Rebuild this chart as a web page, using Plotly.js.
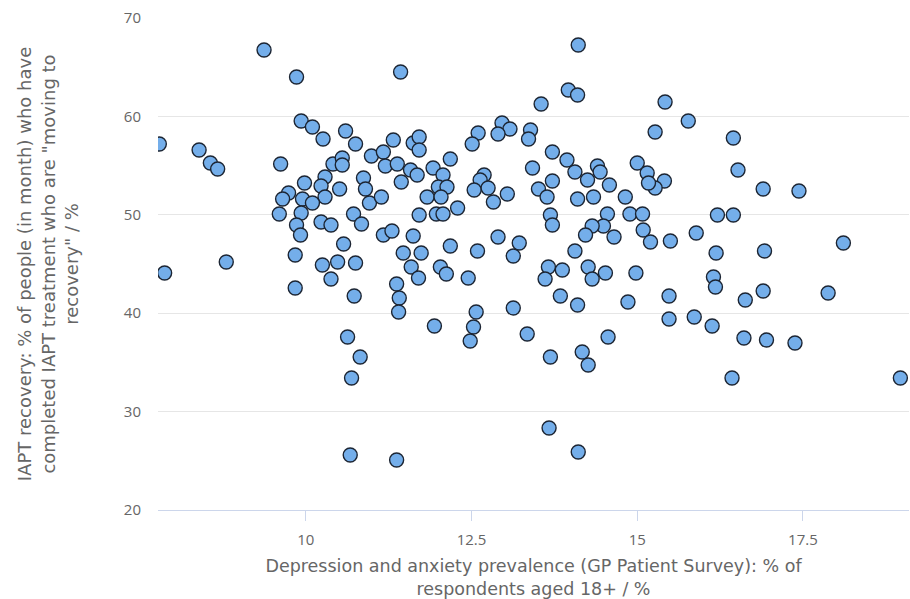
<!DOCTYPE html>
<html>
<head>
<meta charset="utf-8">
<script src="https://cdn.plot.ly/plotly-3.0.1.min.js"></script>
<style>html,body{margin:0;padding:0;background:#fff;}#chart{width:910px;height:599px;}</style>
</head>
<body>
<div id="chart"></div>
<script>
// Depression and anxiety prevalence (%) per area
const prevalence = [
  7.79, 7.87, 8.39, 8.56, 8.67, 8.80, 9.37, 9.86,
  9.93, 10.10, 10.26, 10.60, 10.75, 9.62, 10.41, 10.55, 10.55, 10.99, 11.17, 11.32,
  11.62, 11.71, 11.71, 11.20, 11.38, 11.58, 11.44, 11.68, 10.87, 10.90, 10.96, 11.14,
  10.51, 10.29, 10.23, 10.29, 9.98, 9.74, 9.65, 9.95, 10.10, 9.60, 9.93, 9.86, 9.92,
  10.23, 10.38, 10.72, 10.84, 10.57, 9.84, 11.17, 11.30, 11.62, 11.47, 11.71,
  13.55, 12.60, 12.51, 12.96, 13.08, 12.90, 13.39, 13.36, 13.72, 13.94, 12.18, 13.42,
  13.72, 13.51, 13.64, 11.92, 12.07, 12.00, 12.13, 11.83, 12.04, 12.29, 11.97, 12.07,
  12.69, 12.63, 12.54, 12.75, 13.04, 12.83, 13.69, 13.72, 12.90, 13.22, 13.13, 12.59,
  12.18, 11.74,
  15.42, 15.77, 15.27, 14.06, 14.40, 14.44, 14.25, 14.58, 14.34, 14.10, 14.82, 15.00,
  15.15, 15.41, 15.27, 15.17, 14.55, 14.89, 15.08, 14.49, 14.32, 14.22, 15.09, 15.20,
  14.65, 15.50, 15.89, 16.21, 14.06, 16.19,
  10.25, 10.48, 10.75, 10.38, 9.84, 10.73, 11.59, 11.70, 11.37, 11.41, 11.40, 10.63,
  10.82, 10.69, 12.03, 12.12, 12.45, 13.66, 13.87, 13.61, 13.84, 12.57, 13.13, 12.53,
  12.48, 11.94, 13.34, 13.69, 14.26, 14.32, 14.52, 14.98, 16.15, 16.18, 14.10, 14.86,
  15.48, 15.48, 15.86, 16.13, 14.56, 14.17, 14.26,
  16.45, 16.52, 16.90, 17.44, 16.45, 16.92, 18.11, 16.63, 16.90, 17.88, 16.61, 16.95,
  17.38, 16.43, 18.97,
  10.67, 11.37, 13.67, 14.11, 11.43, 14.11, 13.96, 14.10
];
// IAPT recovery (%) per area
const recovery = [
  57.19, 44.08, 56.58, 55.26, 54.65, 45.20, 66.75, 64.00,
  59.53, 58.92, 57.70, 58.52, 57.19, 55.16, 55.16, 55.77, 55.06, 55.98, 56.38, 57.60,
  57.30, 57.91, 56.58, 54.96, 55.16, 54.55, 53.33, 54.04, 53.74, 52.62, 51.20, 51.81,
  52.62, 53.84, 52.93, 51.81, 53.23, 52.21, 51.60, 51.60, 51.20, 50.08, 50.18, 48.96, 47.95,
  49.27, 48.96, 50.08, 49.06, 47.03, 45.91, 47.95, 48.35, 47.84, 46.12, 49.98,
  61.26, 58.31, 57.19, 59.33, 58.72, 58.21, 58.62, 57.70, 56.38, 55.57, 55.67, 54.76,
  53.43, 52.62, 51.81, 54.76, 54.04, 52.82, 52.82, 51.81, 51.81, 50.69, 50.08, 50.08,
  54.04, 53.54, 52.52, 52.72, 52.11, 51.30, 49.98, 48.96, 47.74, 47.13, 45.81, 46.32,
  46.83, 46.12,
  61.46, 59.53, 58.41, 54.35, 54.96, 54.35, 53.54, 53.03, 51.81, 51.60, 51.81, 55.26,
  54.25, 53.43, 52.72, 53.23, 50.08, 50.08, 50.08, 48.86, 48.86, 47.95, 48.45, 47.23,
  47.74, 47.34, 48.15, 49.98, 46.32, 46.12,
  44.90, 45.20, 45.10, 43.47, 42.56, 41.75, 44.69, 43.58, 42.97, 41.54, 40.12, 37.58,
  35.55, 33.41, 44.69, 43.98, 43.58, 44.69, 44.39, 43.47, 41.75, 40.12, 40.53, 38.60,
  37.17, 38.70, 37.88, 35.55, 44.69, 43.47, 44.08, 44.08, 43.68, 42.66, 40.83, 41.14,
  41.75, 39.41, 39.61, 38.70, 37.58, 36.06, 34.73,
  57.80, 54.55, 52.62, 52.42, 49.98, 46.32, 47.13, 41.34, 42.26, 42.05, 37.48, 37.28,
  36.97, 33.41, 33.41,
  25.59, 25.08, 28.33, 25.89, 64.51, 67.26, 62.68, 62.17
];
const xTickValues = [10, 12.5, 15, 17.5];
const xTickLabels = ['10', '12.5', '15', '17.5'];
const yTickValues = [20, 30, 40, 50, 60, 70];
const yTickLabels = ['20', '30', '40', '50', '60', '70'];

const xTitle = 'Depression and anxiety prevalence (GP Patient Survey): % of<br>respondents aged 18+ / %';
const yTitle = 'IAPT recovery: % of people (in month) who have<br>completed IAPT treatment who are "moving to<br>recovery" / %';

const trace = {
  type: 'scatter',
  mode: 'markers',
  x: prevalence,
  y: recovery,
  marker: {
    size: 14,
    color: '#74aeea',
    line: { color: '#1c2533', width: 1.4 }
  },
  hoverinfo: 'x+y',
  showlegend: false
};

const tickFamily = '"Open Sans", "DejaVu Sans", sans-serif';
const titleFamily = '"DejaVu Sans", "Open Sans", sans-serif';

const layout = {
  width: 910,
  height: 599,
  margin: { l: 158, r: 1, t: 18, b: 89, pad: 0 },
  paper_bgcolor: '#ffffff',
  plot_bgcolor: '#ffffff',
  font: { family: tickFamily, color: '#666666' },
  showlegend: false,
  xaxis: {
    range: [7.77, 19.1],
    tickvals: xTickValues,
    ticktext: xTickLabels,
    showgrid: false,
    zeroline: false,
    showline: true,
    linecolor: '#ccd6eb',
    linewidth: 1,
    ticks: 'outside',
    ticklen: 10,
    tickwidth: 1,
    tickcolor: '#ccd6eb',
    ticklabelstandoff: 6,
    tickfont: { size: 15, color: '#666666', family: tickFamily },
    title: { text: xTitle, font: { size: 17.5, color: '#666666', family: titleFamily }, standoff: 11 },
    automargin: false,
    fixedrange: true
  },
  yaxis: {
    range: [20, 70],
    tickvals: yTickValues,
    ticktext: yTickLabels,
    showgrid: true,
    gridcolor: '#e6e6e6',
    gridwidth: 1,
    zeroline: false,
    showline: false,
    ticks: '',
    ticklabelstandoff: 16,
    tickfont: { size: 15, color: '#666666', family: tickFamily },
    title: { text: yTitle, font: { size: 18, color: '#666666', family: titleFamily }, standoff: 40 },
    automargin: false,
    fixedrange: true
  }
};

Plotly.newPlot('chart', [trace], layout, { displayModeBar: false, staticPlot: true });
</script>
</body>
</html>
